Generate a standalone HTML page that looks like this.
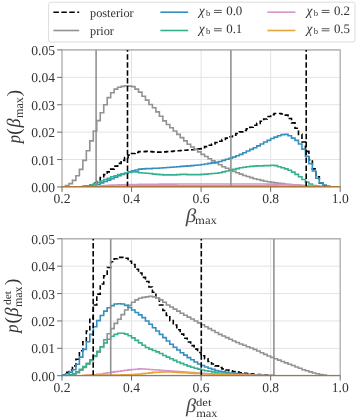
<!DOCTYPE html>
<html><head><meta charset="utf-8"><style>
html,body{margin:0;padding:0;background:#fff;}
body{width:357px;height:420px;overflow:hidden;}
svg{display:block;}
text{font-family:"Liberation Serif",serif;fill:#333;}
svg{-webkit-font-smoothing:antialiased;text-rendering:geometricPrecision;}
.tl{font-size:13.6px;}
.grid{stroke:#e3e3e3;stroke-width:1;}
.spine{fill:none;stroke:#a8a8a8;stroke-width:1.25;}
.tick{stroke:#6a6a6a;stroke-width:1.0;}
.h{fill:none;stroke-width:1.6;stroke-linejoin:miter;}
.leg{font-size:13px;}
</style></head><body>
<svg style="will-change:transform" width="357" height="420" viewBox="0 0 357 420">
<defs>
<clipPath id="c0"><rect x="62.00" y="49.92" width="278.20" height="137.04"/></clipPath>
<clipPath id="c1"><rect x="62.00" y="238.8" width="278.20" height="136.9"/></clipPath>
</defs>
<line x1="62.00" y1="186.96" x2="340.20" y2="186.96" class="grid"/>
<line x1="62.00" y1="159.55" x2="340.20" y2="159.55" class="grid"/>
<line x1="62.00" y1="132.14" x2="340.20" y2="132.14" class="grid"/>
<line x1="62.00" y1="104.74" x2="340.20" y2="104.74" class="grid"/>
<line x1="62.00" y1="77.33" x2="340.20" y2="77.33" class="grid"/>
<line x1="62.00" y1="49.92" x2="340.20" y2="49.92" class="grid"/>
<line x1="131.55" y1="49.92" x2="131.55" y2="186.96" class="grid"/>
<line x1="201.10" y1="49.92" x2="201.10" y2="186.96" class="grid"/>
<line x1="270.65" y1="49.92" x2="270.65" y2="186.96" class="grid"/>
<rect x="62.00" y="49.92" width="278.20" height="137.04" class="spine"/>
<g clip-path="url(#c0)">
<path d="M62.00 186.96L62.00 186.96L65.48 186.96L65.48 186.96L68.95 186.96L68.95 186.96L72.43 186.96L72.43 186.96L75.91 186.96L75.91 186.96L79.39 186.96L79.39 186.96L82.86 186.96L82.86 186.96L86.34 186.96L86.34 186.14L89.82 186.14L89.82 184.77L93.30 184.77L93.30 182.85L96.78 182.85L96.78 180.66L100.25 180.66L100.25 177.64L103.73 177.64L103.73 174.63L107.21 174.63L107.21 171.89L110.69 171.89L110.69 169.14L114.16 169.14L114.16 166.13L117.64 166.13L117.64 163.39L121.12 163.39L121.12 160.37L124.59 160.37L124.59 157.63L128.07 157.63L128.07 155.17L131.55 155.17L131.55 153.52L135.03 153.52L135.03 152.43L138.50 152.43L138.50 151.60L141.98 151.60L141.98 151.60L145.46 151.60L145.46 151.33L148.94 151.33L148.94 151.60L152.42 151.60L152.42 151.88L155.89 151.88L155.89 152.15L159.37 152.15L159.37 152.15L162.85 152.15L162.85 151.88L166.32 151.88L166.32 151.60L169.80 151.60L169.80 151.33L173.28 151.33L173.28 151.06L176.76 151.06L176.76 150.78L180.23 150.78L180.23 150.51L183.71 150.51L183.71 150.23L187.19 150.23L187.19 149.96L190.67 149.96L190.67 149.69L194.15 149.69L194.15 149.41L197.62 149.41L197.62 148.86L201.10 148.86L201.10 147.77L204.58 147.77L204.58 146.67L208.05 146.67L208.05 145.30L211.53 145.30L211.53 143.93L215.01 143.93L215.01 142.56L218.49 142.56L218.49 141.19L221.96 141.19L221.96 139.54L225.44 139.54L225.44 138.17L228.92 138.17L228.92 136.80L232.40 136.80L232.40 135.16L235.87 135.16L235.87 133.51L239.35 133.51L239.35 131.87L242.83 131.87L242.83 130.50L246.31 130.50L246.31 128.86L249.78 128.86L249.78 127.21L253.26 127.21L253.26 125.29L256.74 125.29L256.74 123.37L260.22 123.37L260.22 121.18L263.70 121.18L263.70 118.99L267.17 118.99L267.17 116.52L270.65 116.52L270.65 114.60L274.13 114.60L274.13 113.51L277.61 113.51L277.61 113.51L281.08 113.51L281.08 114.05L284.56 114.05L284.56 115.15L288.04 115.15L288.04 118.44L291.52 118.44L291.52 122.83L294.99 122.83L294.99 128.31L298.47 128.31L298.47 134.34L301.95 134.34L301.95 142.01L305.43 142.01L305.43 151.33L308.90 151.33L308.90 159.83L312.38 159.83L312.38 168.87L315.86 168.87L315.86 176.82L319.33 176.82L319.33 182.85L322.81 182.85L322.81 185.86L326.29 185.86L326.29 186.96L329.77 186.96L329.77 186.96L333.25 186.96L333.25 186.96L336.72 186.96L336.72 186.96L340.20 186.96L340.20 186.96" class="h" stroke="#000" stroke-dasharray="4.7 2.6"/>
<path d="M62.00 186.96L62.00 186.69L65.48 186.69L65.48 185.59L68.95 185.59L68.95 183.67L72.43 183.67L72.43 180.38L75.91 180.38L75.91 175.72L79.39 175.72L79.39 169.42L82.86 169.42L82.86 160.37L86.34 160.37L86.34 150.78L89.82 150.78L89.82 140.91L93.30 140.91L93.30 131.05L96.78 131.05L96.78 120.63L100.25 120.63L100.25 112.68L103.73 112.68L103.73 104.74L107.21 104.74L107.21 97.61L110.69 97.61L110.69 92.68L114.16 92.68L114.16 89.11L117.64 89.11L117.64 87.19L121.12 87.19L121.12 86.37L124.59 86.37L124.59 85.82L128.07 85.82L128.07 86.10L131.55 86.10L131.55 86.65L135.03 86.65L135.03 89.11L138.50 89.11L138.50 92.13L141.98 92.13L141.98 96.24L145.46 96.24L145.46 100.08L148.94 100.08L148.94 104.46L152.42 104.46L152.42 107.75L155.89 107.75L155.89 111.86L159.37 111.86L159.37 116.25L162.85 116.25L162.85 120.91L166.32 120.91L166.32 124.47L169.80 124.47L169.80 127.76L173.28 127.76L173.28 131.05L176.76 131.05L176.76 134.34L180.23 134.34L180.23 137.63L183.71 137.63L183.71 140.91L187.19 140.91L187.19 144.20L190.67 144.20L190.67 146.94L194.15 146.94L194.15 149.41L197.62 149.41L197.62 151.88L201.10 151.88L201.10 154.34L204.58 154.34L204.58 156.54L208.05 156.54L208.05 158.73L211.53 158.73L211.53 160.92L215.01 160.92L215.01 162.84L218.49 162.84L218.49 164.76L221.96 164.76L221.96 166.68L225.44 166.68L225.44 168.32L228.92 168.32L228.92 169.97L232.40 169.97L232.40 171.34L235.87 171.34L235.87 172.71L239.35 172.71L239.35 174.08L242.83 174.08L242.83 175.45L246.31 175.45L246.31 176.54L249.78 176.54L249.78 177.64L253.26 177.64L253.26 178.74L256.74 178.74L256.74 179.56L260.22 179.56L260.22 180.38L263.70 180.38L263.70 181.20L267.17 181.20L267.17 181.75L270.65 181.75L270.65 182.30L274.13 182.30L274.13 182.85L277.61 182.85L277.61 183.40L281.08 183.40L281.08 183.67L284.56 183.67L284.56 184.22L288.04 184.22L288.04 184.49L291.52 184.49L291.52 184.77L294.99 184.77L294.99 185.04L298.47 185.04L298.47 185.32L301.95 185.32L301.95 185.59L305.43 185.59L305.43 185.86L308.90 185.86L308.90 186.14L312.38 186.14L312.38 186.14L315.86 186.14L315.86 186.41L319.33 186.41L319.33 186.41L322.81 186.41L322.81 186.69L326.29 186.69L326.29 186.69L329.77 186.69L329.77 186.69L333.25 186.69L333.25 186.69L336.72 186.69L336.72 186.69L340.20 186.69L340.20 186.96" class="h" stroke="#929292"/>
<path d="M62.00 186.96L62.00 186.96L65.48 186.96L65.48 186.96L68.95 186.96L68.95 186.96L72.43 186.96L72.43 186.96L75.91 186.96L75.91 186.96L79.39 186.96L79.39 186.69L82.86 186.69L82.86 186.41L86.34 186.41L86.34 186.14L89.82 186.14L89.82 185.59L93.30 185.59L93.30 185.04L96.78 185.04L96.78 184.22L100.25 184.22L100.25 182.85L103.73 182.85L103.73 181.48L107.21 181.48L107.21 180.11L110.69 180.11L110.69 178.74L114.16 178.74L114.16 177.09L117.64 177.09L117.64 175.72L121.12 175.72L121.12 174.35L124.59 174.35L124.59 173.26L128.07 173.26L128.07 171.89L131.55 171.89L131.55 170.79L135.03 170.79L135.03 169.97L138.50 169.97L138.50 169.14L141.98 169.14L141.98 168.87L145.46 168.87L145.46 168.60L148.94 168.60L148.94 168.60L152.42 168.60L152.42 168.32L155.89 168.32L155.89 168.32L159.37 168.32L159.37 168.05L162.85 168.05L162.85 167.77L166.32 167.77L166.32 167.50L169.80 167.50L169.80 167.23L173.28 167.23L173.28 166.95L176.76 166.95L176.76 166.68L180.23 166.68L180.23 166.40L183.71 166.40L183.71 166.13L187.19 166.13L187.19 165.86L190.67 165.86L190.67 165.58L194.15 165.58L194.15 165.31L197.62 165.31L197.62 165.03L201.10 165.03L201.10 164.49L204.58 164.49L204.58 163.94L208.05 163.94L208.05 163.39L211.53 163.39L211.53 162.84L215.01 162.84L215.01 162.29L218.49 162.29L218.49 161.47L221.96 161.47L221.96 160.37L225.44 160.37L225.44 159.28L228.92 159.28L228.92 158.18L232.40 158.18L232.40 157.09L235.87 157.09L235.87 155.71L239.35 155.71L239.35 154.34L242.83 154.34L242.83 152.70L246.31 152.70L246.31 151.06L249.78 151.06L249.78 149.41L253.26 149.41L253.26 147.77L256.74 147.77L256.74 145.85L260.22 145.85L260.22 143.93L263.70 143.93L263.70 142.01L267.17 142.01L267.17 140.37L270.65 140.37L270.65 138.45L274.13 138.45L274.13 137.08L277.61 137.08L277.61 135.71L281.08 135.71L281.08 134.61L284.56 134.61L284.56 134.34L288.04 134.34L288.04 135.71L291.52 135.71L291.52 138.17L294.99 138.17L294.99 140.37L298.47 140.37L298.47 143.93L301.95 143.93L301.95 149.14L305.43 149.14L305.43 156.26L308.90 156.26L308.90 163.66L312.38 163.66L312.38 171.06L315.86 171.06L315.86 178.19L319.33 178.19L319.33 182.85L322.81 182.85L322.81 185.04L326.29 185.04L326.29 186.14L329.77 186.14L329.77 186.69L333.25 186.69L333.25 186.96L336.72 186.96L336.72 186.96L340.20 186.96L340.20 186.96" class="h" stroke="#348fc1"/>
<path d="M62.00 186.96L62.00 186.96L65.48 186.96L65.48 186.96L68.95 186.96L68.95 186.96L72.43 186.96L72.43 186.96L75.91 186.96L75.91 186.96L79.39 186.96L79.39 186.69L82.86 186.69L82.86 186.41L86.34 186.41L86.34 185.86L89.82 185.86L89.82 184.77L93.30 184.77L93.30 183.67L96.78 183.67L96.78 182.30L100.25 182.30L100.25 180.93L103.73 180.93L103.73 179.56L107.21 179.56L107.21 178.19L110.69 178.19L110.69 176.82L114.16 176.82L114.16 175.72L117.64 175.72L117.64 174.63L121.12 174.63L121.12 173.80L124.59 173.80L124.59 172.98L128.07 172.98L128.07 172.43L131.55 172.43L131.55 171.89L135.03 171.89L135.03 171.89L138.50 171.89L138.50 172.71L141.98 172.71L141.98 172.98L145.46 172.98L145.46 173.26L148.94 173.26L148.94 173.53L152.42 173.53L152.42 174.08L155.89 174.08L155.89 174.35L159.37 174.35L159.37 174.63L162.85 174.63L162.85 174.90L166.32 174.90L166.32 174.90L169.80 174.90L169.80 174.90L173.28 174.90L173.28 174.90L176.76 174.90L176.76 174.63L180.23 174.63L180.23 174.35L183.71 174.35L183.71 174.35L187.19 174.35L187.19 174.63L190.67 174.63L190.67 174.63L194.15 174.63L194.15 174.63L197.62 174.63L197.62 174.63L201.10 174.63L201.10 174.35L204.58 174.35L204.58 174.08L208.05 174.08L208.05 173.80L211.53 173.80L211.53 173.53L215.01 173.53L215.01 173.26L218.49 173.26L218.49 172.71L221.96 172.71L221.96 171.89L225.44 171.89L225.44 171.06L228.92 171.06L228.92 170.24L232.40 170.24L232.40 169.42L235.87 169.42L235.87 168.60L239.35 168.60L239.35 167.77L242.83 167.77L242.83 167.23L246.31 167.23L246.31 166.68L249.78 166.68L249.78 166.40L253.26 166.40L253.26 166.13L256.74 166.13L256.74 165.86L260.22 165.86L260.22 165.86L263.70 165.86L263.70 165.58L267.17 165.58L267.17 165.58L270.65 165.58L270.65 165.31L274.13 165.31L274.13 165.58L277.61 165.58L277.61 166.68L281.08 166.68L281.08 167.77L284.56 167.77L284.56 168.87L288.04 168.87L288.04 170.24L291.52 170.24L291.52 172.16L294.99 172.16L294.99 174.35L298.47 174.35L298.47 176.82L301.95 176.82L301.95 179.56L305.43 179.56L305.43 182.03L308.90 182.03L308.90 183.95L312.38 183.95L312.38 185.59L315.86 185.59L315.86 186.41L319.33 186.41L319.33 186.96L322.81 186.96L322.81 186.96L326.29 186.96L326.29 186.96L329.77 186.96L329.77 186.96L333.25 186.96L333.25 186.96L336.72 186.96L336.72 186.96L340.20 186.96L340.20 186.96" class="h" stroke="#35b18f"/>
<path d="M62.00 186.96L62.00 186.96L65.48 186.96L65.48 186.96L68.95 186.96L68.95 186.96L72.43 186.96L72.43 186.96L75.91 186.96L75.91 186.96L79.39 186.96L79.39 186.96L82.86 186.96L82.86 186.96L86.34 186.96L86.34 186.96L89.82 186.96L89.82 186.96L93.30 186.96L93.30 186.55L96.78 186.55L96.78 186.14L100.25 186.14L100.25 185.86L103.73 185.86L103.73 185.59L107.21 185.59L107.21 185.32L110.69 185.32L110.69 185.13L114.16 185.13L114.16 184.95L117.64 184.95L117.64 184.77L121.12 184.77L121.12 184.71L124.59 184.71L124.59 184.65L128.07 184.65L128.07 184.58L131.55 184.58L131.55 184.52L135.03 184.52L135.03 184.46L138.50 184.46L138.50 184.40L141.98 184.40L141.98 184.34L145.46 184.34L145.46 184.28L148.94 184.28L148.94 184.22L152.42 184.22L152.42 184.20L155.89 184.20L155.89 184.18L159.37 184.18L159.37 184.16L162.85 184.16L162.85 184.15L166.32 184.15L166.32 184.13L169.80 184.13L169.80 184.11L173.28 184.11L173.28 184.09L176.76 184.09L176.76 184.07L180.23 184.07L180.23 184.05L183.71 184.05L183.71 184.04L187.19 184.04L187.19 184.02L190.67 184.02L190.67 184.00L194.15 184.00L194.15 183.98L197.62 183.98L197.62 183.96L201.10 183.96L201.10 183.95L204.58 183.95L204.58 183.95L208.05 183.95L208.05 183.95L211.53 183.95L211.53 183.95L215.01 183.95L215.01 183.95L218.49 183.95L218.49 183.95L221.96 183.95L221.96 183.95L225.44 183.95L225.44 183.95L228.92 183.95L228.92 183.95L232.40 183.95L232.40 183.95L235.87 183.95L235.87 183.95L239.35 183.95L239.35 183.95L242.83 183.95L242.83 183.95L246.31 183.95L246.31 183.95L249.78 183.95L249.78 183.95L253.26 183.95L253.26 183.95L256.74 183.95L256.74 183.98L260.22 183.98L260.22 184.02L263.70 184.02L263.70 184.06L267.17 184.06L267.17 184.10L270.65 184.10L270.65 184.14L274.13 184.14L274.13 184.18L277.61 184.18L277.61 184.22L281.08 184.22L281.08 184.36L284.56 184.36L284.56 184.49L288.04 184.49L288.04 184.63L291.52 184.63L291.52 184.77L294.99 184.77L294.99 185.04L298.47 185.04L298.47 185.32L301.95 185.32L301.95 185.59L305.43 185.59L305.43 185.86L308.90 185.86L308.90 186.14L312.38 186.14L312.38 186.41L315.86 186.41L315.86 186.69L319.33 186.69L319.33 186.82L322.81 186.82L322.81 186.96L326.29 186.96L326.29 186.96L329.77 186.96L329.77 186.96L333.25 186.96L333.25 186.96L336.72 186.96L336.72 186.96L340.20 186.96L340.20 186.96" class="h" stroke="#d693c9"/>
<path d="M62.00 186.96L62.00 186.96L65.48 186.96L65.48 186.96L68.95 186.96L68.95 186.96L72.43 186.96L72.43 186.96L75.91 186.96L75.91 186.96L79.39 186.96L79.39 186.96L82.86 186.96L82.86 186.96L86.34 186.96L86.34 186.96L89.82 186.96L89.82 186.96L93.30 186.96L93.30 186.82L96.78 186.82L96.78 186.69L100.25 186.69L100.25 186.55L103.73 186.55L103.73 186.41L107.21 186.41L107.21 186.34L110.69 186.34L110.69 186.27L114.16 186.27L114.16 186.21L117.64 186.21L117.64 186.14L121.12 186.14L121.12 186.07L124.59 186.07L124.59 186.00L128.07 186.00L128.07 185.93L131.55 185.93L131.55 185.86L135.03 185.86L135.03 185.86L138.50 185.86L138.50 185.86L141.98 185.86L141.98 185.86L145.46 185.86L145.46 185.86L148.94 185.86L148.94 185.86L152.42 185.86L152.42 185.86L155.89 185.86L155.89 185.86L159.37 185.86L159.37 185.86L162.85 185.86L162.85 185.86L166.32 185.86L166.32 185.86L169.80 185.86L169.80 185.86L173.28 185.86L173.28 185.86L176.76 185.86L176.76 185.86L180.23 185.86L180.23 185.86L183.71 185.86L183.71 185.86L187.19 185.86L187.19 185.86L190.67 185.86L190.67 185.86L194.15 185.86L194.15 185.86L197.62 185.86L197.62 185.86L201.10 185.86L201.10 185.86L204.58 185.86L204.58 185.86L208.05 185.86L208.05 185.86L211.53 185.86L211.53 185.86L215.01 185.86L215.01 185.86L218.49 185.86L218.49 185.86L221.96 185.86L221.96 185.86L225.44 185.86L225.44 185.86L228.92 185.86L228.92 185.86L232.40 185.86L232.40 185.86L235.87 185.86L235.87 185.86L239.35 185.86L239.35 185.86L242.83 185.86L242.83 185.86L246.31 185.86L246.31 185.86L249.78 185.86L249.78 185.86L253.26 185.86L253.26 185.86L256.74 185.86L256.74 185.86L260.22 185.86L260.22 185.86L263.70 185.86L263.70 185.86L267.17 185.86L267.17 185.86L270.65 185.86L270.65 185.86L274.13 185.86L274.13 185.90L277.61 185.90L277.61 185.93L281.08 185.93L281.08 185.97L284.56 185.97L284.56 186.00L288.04 186.00L288.04 186.03L291.52 186.03L291.52 186.07L294.99 186.07L294.99 186.10L298.47 186.10L298.47 186.14L301.95 186.14L301.95 186.27L305.43 186.27L305.43 186.41L308.90 186.41L308.90 186.55L312.38 186.55L312.38 186.69L315.86 186.69L315.86 186.82L319.33 186.82L319.33 186.96L322.81 186.96L322.81 186.96L326.29 186.96L326.29 186.96L329.77 186.96L329.77 186.96L333.25 186.96L333.25 186.96L336.72 186.96L336.72 186.96L340.20 186.96L340.20 186.96" class="h" stroke="#e5a537"/>
<line x1="96.10" y1="186.96" x2="96.10" y2="49.92" stroke="#929292" stroke-width="1.6"/>
<line x1="230.90" y1="186.96" x2="230.90" y2="49.92" stroke="#929292" stroke-width="1.6"/>
<line x1="127.50" y1="186.96" x2="127.50" y2="49.92" stroke="#000" stroke-width="1.6" stroke-dasharray="5.5 2.45"/>
<line x1="306.20" y1="186.96" x2="306.20" y2="49.92" stroke="#000" stroke-width="1.6" stroke-dasharray="5.5 2.45"/>
</g>
<line x1="62.00" y1="186.66" x2="340.20" y2="186.66" stroke="#a87234" stroke-width="1.0"/>
<line x1="57.10" y1="186.96" x2="62.00" y2="186.96" class="tick"/>
<text x="55" y="191.96" class="tl" text-anchor="end">0.00</text>
<line x1="57.10" y1="159.55" x2="62.00" y2="159.55" class="tick"/>
<text x="55" y="164.55" class="tl" text-anchor="end">0.01</text>
<line x1="57.10" y1="132.14" x2="62.00" y2="132.14" class="tick"/>
<text x="55" y="137.14" class="tl" text-anchor="end">0.02</text>
<line x1="57.10" y1="104.74" x2="62.00" y2="104.74" class="tick"/>
<text x="55" y="109.74" class="tl" text-anchor="end">0.03</text>
<line x1="57.10" y1="77.33" x2="62.00" y2="77.33" class="tick"/>
<text x="55" y="82.33" class="tl" text-anchor="end">0.04</text>
<line x1="57.10" y1="49.92" x2="62.00" y2="49.92" class="tick"/>
<text x="55" y="54.92" class="tl" text-anchor="end">0.05</text>
<line x1="62.00" y1="186.96" x2="62.00" y2="191.86" class="tick"/>
<text x="62.00" y="203.16" class="tl" text-anchor="middle">0.2</text>
<line x1="131.55" y1="186.96" x2="131.55" y2="191.86" class="tick"/>
<text x="131.55" y="203.16" class="tl" text-anchor="middle">0.4</text>
<line x1="201.10" y1="186.96" x2="201.10" y2="191.86" class="tick"/>
<text x="201.10" y="203.16" class="tl" text-anchor="middle">0.6</text>
<line x1="270.65" y1="186.96" x2="270.65" y2="191.86" class="tick"/>
<text x="270.65" y="203.16" class="tl" text-anchor="middle">0.8</text>
<line x1="340.20" y1="186.96" x2="340.20" y2="191.86" class="tick"/>
<text x="340.20" y="203.16" class="tl" text-anchor="middle">1.0</text>
<line x1="62.00" y1="375.70" x2="340.20" y2="375.70" class="grid"/>
<line x1="62.00" y1="348.32" x2="340.20" y2="348.32" class="grid"/>
<line x1="62.00" y1="320.94" x2="340.20" y2="320.94" class="grid"/>
<line x1="62.00" y1="293.56" x2="340.20" y2="293.56" class="grid"/>
<line x1="62.00" y1="266.18" x2="340.20" y2="266.18" class="grid"/>
<line x1="62.00" y1="238.80" x2="340.20" y2="238.80" class="grid"/>
<line x1="131.55" y1="238.80" x2="131.55" y2="375.70" class="grid"/>
<line x1="201.10" y1="238.80" x2="201.10" y2="375.70" class="grid"/>
<line x1="270.65" y1="238.80" x2="270.65" y2="375.70" class="grid"/>
<rect x="62.00" y="238.80" width="278.20" height="136.90" class="spine"/>
<g clip-path="url(#c1)">
<path d="M62.00 375.70L62.00 374.88L65.48 374.88L65.48 372.41L68.95 372.41L68.95 369.95L72.43 369.95L72.43 365.84L75.91 365.84L75.91 359.27L79.39 359.27L79.39 350.78L82.86 350.78L82.86 341.75L86.34 341.75L86.34 331.07L89.82 331.07L89.82 318.20L93.30 318.20L93.30 305.06L96.78 305.06L96.78 294.11L100.25 294.11L100.25 283.98L103.73 283.98L103.73 275.76L107.21 275.76L107.21 267.55L110.69 267.55L110.69 261.80L114.16 261.80L114.16 258.79L117.64 258.79L117.64 257.42L121.12 257.42L121.12 257.42L124.59 257.42L124.59 258.24L128.07 258.24L128.07 261.25L131.55 261.25L131.55 264.54L135.03 264.54L135.03 269.19L138.50 269.19L138.50 273.02L141.98 273.02L141.98 277.41L145.46 277.41L145.46 281.51L148.94 281.51L148.94 286.99L152.42 286.99L152.42 292.19L155.89 292.19L155.89 298.49L159.37 298.49L159.37 305.06L162.85 305.06L162.85 310.54L166.32 310.54L166.32 315.46L169.80 315.46L169.80 320.67L173.28 320.67L173.28 325.05L176.76 325.05L176.76 329.70L180.23 329.70L180.23 334.08L183.71 334.08L183.71 338.19L187.19 338.19L187.19 342.02L190.67 342.02L190.67 345.58L194.15 345.58L194.15 349.14L197.62 349.14L197.62 352.43L201.10 352.43L201.10 355.71L204.58 355.71L204.58 358.72L208.05 358.72L208.05 361.46L211.53 361.46L211.53 363.93L215.01 363.93L215.01 365.84L218.49 365.84L218.49 367.49L221.96 367.49L221.96 368.86L225.44 368.86L225.44 369.95L228.92 369.95L228.92 370.77L232.40 370.77L232.40 371.59L235.87 371.59L235.87 372.14L239.35 372.14L239.35 372.69L242.83 372.69L242.83 373.24L246.31 373.24L246.31 373.51L249.78 373.51L249.78 373.92L253.26 373.92L253.26 374.33L256.74 374.33L256.74 374.60L260.22 374.60L260.22 374.88L263.70 374.88L263.70 375.15L267.17 375.15L267.17 375.33L270.65 375.33L270.65 375.52L274.13 375.52L274.13 375.70L277.61 375.70L277.61 375.70L281.08 375.70L281.08 375.70L284.56 375.70L284.56 375.70L288.04 375.70L288.04 375.70L291.52 375.70L291.52 375.70L294.99 375.70L294.99 375.70L298.47 375.70L298.47 375.70L301.95 375.70L301.95 375.70L305.43 375.70L305.43 375.70L308.90 375.70L308.90 375.70L312.38 375.70L312.38 375.70L315.86 375.70L315.86 375.70L319.33 375.70L319.33 375.70L322.81 375.70L322.81 375.70L326.29 375.70L326.29 375.70L329.77 375.70L329.77 375.70L333.25 375.70L333.25 375.70L336.72 375.70L336.72 375.70L340.20 375.70L340.20 375.70" class="h" stroke="#000" stroke-dasharray="4.7 2.6"/>
<path d="M62.00 375.70L62.00 375.70L65.48 375.70L65.48 375.70L68.95 375.70L68.95 375.43L72.43 375.43L72.43 374.60L75.91 374.60L75.91 372.69L79.39 372.69L79.39 370.22L82.86 370.22L82.86 367.49L86.34 367.49L86.34 364.20L89.82 364.20L89.82 360.64L93.30 360.64L93.30 356.53L96.78 356.53L96.78 352.15L100.25 352.15L100.25 346.68L103.73 346.68L103.73 339.83L107.21 339.83L107.21 333.81L110.69 333.81L110.69 328.61L114.16 328.61L114.16 323.40L117.64 323.40L117.64 319.30L121.12 319.30L121.12 314.64L124.59 314.64L124.59 309.99L128.07 309.99L128.07 305.33L131.55 305.33L131.55 302.32L135.03 302.32L135.03 299.86L138.50 299.86L138.50 298.21L141.98 298.21L141.98 297.39L145.46 297.39L145.46 296.85L148.94 296.85L148.94 296.30L152.42 296.30L152.42 296.85L155.89 296.85L155.89 297.94L159.37 297.94L159.37 299.86L162.85 299.86L162.85 302.32L166.32 302.32L166.32 305.06L169.80 305.06L169.80 306.98L173.28 306.98L173.28 309.17L176.76 309.17L176.76 311.08L180.23 311.08L180.23 313.27L183.71 313.27L183.71 315.19L187.19 315.19L187.19 317.11L190.67 317.11L190.67 319.02L194.15 319.02L194.15 320.94L197.62 320.94L197.62 322.86L201.10 322.86L201.10 324.77L204.58 324.77L204.58 326.69L208.05 326.69L208.05 328.61L211.53 328.61L211.53 330.52L215.01 330.52L215.01 332.44L218.49 332.44L218.49 334.36L221.96 334.36L221.96 336.00L225.44 336.00L225.44 337.64L228.92 337.64L228.92 339.28L232.40 339.28L232.40 340.93L235.87 340.93L235.87 342.57L239.35 342.57L239.35 343.94L242.83 343.94L242.83 345.31L246.31 345.31L246.31 346.68L249.78 346.68L249.78 348.05L253.26 348.05L253.26 349.42L256.74 349.42L256.74 351.06L260.22 351.06L260.22 352.70L263.70 352.70L263.70 354.34L267.17 354.34L267.17 355.99L270.65 355.99L270.65 357.36L274.13 357.36L274.13 358.72L277.61 358.72L277.61 360.09L281.08 360.09L281.08 361.46L284.56 361.46L284.56 362.83L288.04 362.83L288.04 364.20L291.52 364.20L291.52 365.57L294.99 365.57L294.99 366.94L298.47 366.94L298.47 368.31L301.95 368.31L301.95 369.68L305.43 369.68L305.43 370.77L308.90 370.77L308.90 371.87L312.38 371.87L312.38 372.96L315.86 372.96L315.86 373.78L319.33 373.78L319.33 374.60L322.81 374.60L322.81 375.15L326.29 375.15L326.29 375.70L329.77 375.70L329.77 375.70L333.25 375.70L333.25 375.70L336.72 375.70L336.72 375.70L340.20 375.70L340.20 375.70" class="h" stroke="#929292"/>
<path d="M62.00 375.70L62.00 374.88L65.48 374.88L65.48 373.78L68.95 373.78L68.95 372.14L72.43 372.14L72.43 369.68L75.91 369.68L75.91 364.20L79.39 364.20L79.39 357.08L82.86 357.08L82.86 349.42L86.34 349.42L86.34 341.75L89.82 341.75L89.82 334.36L93.30 334.36L93.30 326.69L96.78 326.69L96.78 320.67L100.25 320.67L100.25 315.46L103.73 315.46L103.73 311.08L107.21 311.08L107.21 307.80L110.69 307.80L110.69 305.61L114.16 305.61L114.16 303.96L117.64 303.96L117.64 303.69L121.12 303.69L121.12 303.96L124.59 303.96L124.59 305.33L128.07 305.33L128.07 307.52L131.55 307.52L131.55 309.99L135.03 309.99L135.03 312.45L138.50 312.45L138.50 314.92L141.98 314.92L141.98 317.65L145.46 317.65L145.46 320.94L148.94 320.94L148.94 324.23L152.42 324.23L152.42 327.78L155.89 327.78L155.89 331.07L159.37 331.07L159.37 334.36L162.85 334.36L162.85 337.64L166.32 337.64L166.32 340.93L169.80 340.93L169.80 344.21L173.28 344.21L173.28 347.22L176.76 347.22L176.76 349.96L180.23 349.96L180.23 352.70L183.71 352.70L183.71 355.16L187.19 355.16L187.19 357.63L190.67 357.63L190.67 359.82L194.15 359.82L194.15 362.01L197.62 362.01L197.62 363.93L201.10 363.93L201.10 365.57L204.58 365.57L204.58 366.94L208.05 366.94L208.05 368.31L211.53 368.31L211.53 369.40L215.01 369.40L215.01 370.50L218.49 370.50L218.49 371.32L221.96 371.32L221.96 371.87L225.44 371.87L225.44 372.41L228.92 372.41L228.92 372.96L232.40 372.96L232.40 373.24L235.87 373.24L235.87 373.51L239.35 373.51L239.35 373.78L242.83 373.78L242.83 374.06L246.31 374.06L246.31 374.33L249.78 374.33L249.78 374.60L253.26 374.60L253.26 374.88L256.74 374.88L256.74 375.06L260.22 375.06L260.22 375.24L263.70 375.24L263.70 375.43L267.17 375.43L267.17 375.56L270.65 375.56L270.65 375.70L274.13 375.70L274.13 375.70L277.61 375.70L277.61 375.70L281.08 375.70L281.08 375.70L284.56 375.70L284.56 375.70L288.04 375.70L288.04 375.70L291.52 375.70L291.52 375.70L294.99 375.70L294.99 375.70L298.47 375.70L298.47 375.70L301.95 375.70L301.95 375.70L305.43 375.70L305.43 375.70L308.90 375.70L308.90 375.70L312.38 375.70L312.38 375.70L315.86 375.70L315.86 375.70L319.33 375.70L319.33 375.70L322.81 375.70L322.81 375.70L326.29 375.70L326.29 375.70L329.77 375.70L329.77 375.70L333.25 375.70L333.25 375.70L336.72 375.70L336.72 375.70L340.20 375.70L340.20 375.70" class="h" stroke="#348fc1"/>
<path d="M62.00 375.70L62.00 375.70L65.48 375.70L65.48 375.70L68.95 375.70L68.95 374.88L72.43 374.88L72.43 373.78L75.91 373.78L75.91 371.87L79.39 371.87L79.39 369.40L82.86 369.40L82.86 366.66L86.34 366.66L86.34 363.38L89.82 363.38L89.82 359.82L93.30 359.82L93.30 355.71L96.78 355.71L96.78 351.33L100.25 351.33L100.25 346.95L103.73 346.95L103.73 342.84L107.21 342.84L107.21 339.28L110.69 339.28L110.69 336.27L114.16 336.27L114.16 334.36L117.64 334.36L117.64 333.26L121.12 333.26L121.12 333.26L124.59 333.26L124.59 334.08L128.07 334.08L128.07 335.73L131.55 335.73L131.55 337.92L135.03 337.92L135.03 340.38L138.50 340.38L138.50 342.84L141.98 342.84L141.98 345.31L145.46 345.31L145.46 347.50L148.94 347.50L148.94 349.14L152.42 349.14L152.42 350.51L155.89 350.51L155.89 351.88L159.37 351.88L159.37 353.52L162.85 353.52L162.85 355.44L166.32 355.44L166.32 357.08L169.80 357.08L169.80 358.72L173.28 358.72L173.28 360.37L176.76 360.37L176.76 362.01L180.23 362.01L180.23 363.38L183.71 363.38L183.71 364.75L187.19 364.75L187.19 366.12L190.67 366.12L190.67 367.21L194.15 367.21L194.15 368.31L197.62 368.31L197.62 369.13L201.10 369.13L201.10 369.95L204.58 369.95L204.58 370.77L208.05 370.77L208.05 371.32L211.53 371.32L211.53 371.87L215.01 371.87L215.01 372.41L218.49 372.41L218.49 372.96L221.96 372.96L221.96 373.24L225.44 373.24L225.44 373.51L228.92 373.51L228.92 373.78L232.40 373.78L232.40 374.06L235.87 374.06L235.87 374.33L239.35 374.33L239.35 374.50L242.83 374.50L242.83 374.66L246.31 374.66L246.31 374.82L249.78 374.82L249.78 374.99L253.26 374.99L253.26 375.15L256.74 375.15L256.74 375.33L260.22 375.33L260.22 375.52L263.70 375.52L263.70 375.70L267.17 375.70L267.17 375.70L270.65 375.70L270.65 375.70L274.13 375.70L274.13 375.70L277.61 375.70L277.61 375.70L281.08 375.70L281.08 375.70L284.56 375.70L284.56 375.70L288.04 375.70L288.04 375.70L291.52 375.70L291.52 375.70L294.99 375.70L294.99 375.70L298.47 375.70L298.47 375.70L301.95 375.70L301.95 375.70L305.43 375.70L305.43 375.70L308.90 375.70L308.90 375.70L312.38 375.70L312.38 375.70L315.86 375.70L315.86 375.70L319.33 375.70L319.33 375.70L322.81 375.70L322.81 375.70L326.29 375.70L326.29 375.70L329.77 375.70L329.77 375.70L333.25 375.70L333.25 375.70L336.72 375.70L336.72 375.70L340.20 375.70L340.20 375.70" class="h" stroke="#35b18f"/>
<path d="M62.00 375.70L62.00 375.70L65.48 375.70L65.48 375.70L68.95 375.70L68.95 375.70L72.43 375.70L72.43 375.70L75.91 375.70L75.91 375.70L79.39 375.70L79.39 375.70L82.86 375.70L82.86 375.52L86.34 375.52L86.34 375.33L89.82 375.33L89.82 375.15L93.30 375.15L93.30 374.79L96.78 374.79L96.78 374.42L100.25 374.42L100.25 374.06L103.73 374.06L103.73 373.42L107.21 373.42L107.21 372.78L110.69 372.78L110.69 372.14L114.16 372.14L114.16 371.66L117.64 371.66L117.64 371.18L121.12 371.18L121.12 370.70L124.59 370.70L124.59 370.22L128.07 370.22L128.07 369.88L131.55 369.88L131.55 369.54L135.03 369.54L135.03 369.20L138.50 369.20L138.50 368.86L141.98 368.86L141.98 369.06L145.46 369.06L145.46 369.27L148.94 369.27L148.94 369.47L152.42 369.47L152.42 369.68L155.89 369.68L155.89 369.95L159.37 369.95L159.37 370.22L162.85 370.22L162.85 370.50L166.32 370.50L166.32 370.77L169.80 370.77L169.80 371.05L173.28 371.05L173.28 371.32L176.76 371.32L176.76 371.59L180.23 371.59L180.23 371.87L183.71 371.87L183.71 372.14L187.19 372.14L187.19 372.41L190.67 372.41L190.67 372.64L194.15 372.64L194.15 372.87L197.62 372.87L197.62 373.10L201.10 373.10L201.10 373.33L204.58 373.33L204.58 373.56L208.05 373.56L208.05 373.78L211.53 373.78L211.53 373.92L215.01 373.92L215.01 374.06L218.49 374.06L218.49 374.19L221.96 374.19L221.96 374.33L225.44 374.33L225.44 374.47L228.92 374.47L228.92 374.60L232.40 374.60L232.40 374.68L235.87 374.68L235.87 374.76L239.35 374.76L239.35 374.84L242.83 374.84L242.83 374.92L246.31 374.92L246.31 375.00L249.78 375.00L249.78 375.07L253.26 375.07L253.26 375.15L256.74 375.15L256.74 375.26L260.22 375.26L260.22 375.37L263.70 375.37L263.70 375.48L267.17 375.48L267.17 375.59L270.65 375.59L270.65 375.70L274.13 375.70L274.13 375.70L277.61 375.70L277.61 375.70L281.08 375.70L281.08 375.70L284.56 375.70L284.56 375.70L288.04 375.70L288.04 375.70L291.52 375.70L291.52 375.70L294.99 375.70L294.99 375.70L298.47 375.70L298.47 375.70L301.95 375.70L301.95 375.70L305.43 375.70L305.43 375.70L308.90 375.70L308.90 375.70L312.38 375.70L312.38 375.70L315.86 375.70L315.86 375.70L319.33 375.70L319.33 375.70L322.81 375.70L322.81 375.70L326.29 375.70L326.29 375.70L329.77 375.70L329.77 375.70L333.25 375.70L333.25 375.70L336.72 375.70L336.72 375.70L340.20 375.70L340.20 375.70" class="h" stroke="#d693c9"/>
<path d="M62.00 375.70L62.00 375.70L65.48 375.70L65.48 375.70L68.95 375.70L68.95 375.70L72.43 375.70L72.43 375.70L75.91 375.70L75.91 375.70L79.39 375.70L79.39 375.70L82.86 375.70L82.86 375.52L86.34 375.52L86.34 375.33L89.82 375.33L89.82 375.15L93.30 375.15L93.30 375.13L96.78 375.13L96.78 375.10L100.25 375.10L100.25 375.07L103.73 375.07L103.73 375.04L107.21 375.04L107.21 375.02L110.69 375.02L110.69 374.99L114.16 374.99L114.16 374.96L117.64 374.96L117.64 374.93L121.12 374.93L121.12 374.91L124.59 374.91L124.59 374.88L128.07 374.88L128.07 374.74L131.55 374.74L131.55 374.60L135.03 374.60L135.03 374.33L138.50 374.33L138.50 374.06L141.98 374.06L141.98 373.65L145.46 373.65L145.46 373.24L148.94 373.24L148.94 372.83L152.42 372.83L152.42 372.41L155.89 372.41L155.89 372.28L159.37 372.28L159.37 372.14L162.85 372.14L162.85 372.00L166.32 372.00L166.32 371.87L169.80 371.87L169.80 372.05L173.28 372.05L173.28 372.23L176.76 372.23L176.76 372.41L180.23 372.41L180.23 372.60L183.71 372.60L183.71 372.78L187.19 372.78L187.19 372.96L190.67 372.96L190.67 373.14L194.15 373.14L194.15 373.33L197.62 373.33L197.62 373.51L201.10 373.51L201.10 373.69L204.58 373.69L204.58 373.87L208.05 373.87L208.05 374.06L211.53 374.06L211.53 374.19L215.01 374.19L215.01 374.33L218.49 374.33L218.49 374.47L221.96 374.47L221.96 374.60L225.44 374.60L225.44 374.74L228.92 374.74L228.92 374.88L232.40 374.88L232.40 374.96L235.87 374.96L235.87 375.04L239.35 375.04L239.35 375.11L242.83 375.11L242.83 375.19L246.31 375.19L246.31 375.27L249.78 375.27L249.78 375.35L253.26 375.35L253.26 375.43L256.74 375.43L256.74 375.48L260.22 375.48L260.22 375.54L263.70 375.54L263.70 375.59L267.17 375.59L267.17 375.65L270.65 375.65L270.65 375.70L274.13 375.70L274.13 375.70L277.61 375.70L277.61 375.70L281.08 375.70L281.08 375.70L284.56 375.70L284.56 375.70L288.04 375.70L288.04 375.70L291.52 375.70L291.52 375.70L294.99 375.70L294.99 375.70L298.47 375.70L298.47 375.70L301.95 375.70L301.95 375.70L305.43 375.70L305.43 375.70L308.90 375.70L308.90 375.70L312.38 375.70L312.38 375.70L315.86 375.70L315.86 375.70L319.33 375.70L319.33 375.70L322.81 375.70L322.81 375.70L326.29 375.70L326.29 375.70L329.77 375.70L329.77 375.70L333.25 375.70L333.25 375.70L336.72 375.70L336.72 375.70L340.20 375.70L340.20 375.70" class="h" stroke="#e5a537"/>
<line x1="110.70" y1="375.70" x2="110.70" y2="238.80" stroke="#929292" stroke-width="1.6"/>
<line x1="273.90" y1="375.70" x2="273.90" y2="238.80" stroke="#929292" stroke-width="1.6"/>
<line x1="93.20" y1="375.70" x2="93.20" y2="238.80" stroke="#000" stroke-width="1.6" stroke-dasharray="5.5 2.45"/>
<line x1="201.30" y1="375.70" x2="201.30" y2="238.80" stroke="#000" stroke-width="1.6" stroke-dasharray="5.5 2.45"/>
</g>
<line x1="62.00" y1="375.40" x2="340.20" y2="375.40" stroke="#a87234" stroke-width="1.0"/>
<line x1="57.10" y1="375.70" x2="62.00" y2="375.70" class="tick"/>
<text x="55" y="380.70" class="tl" text-anchor="end">0.00</text>
<line x1="57.10" y1="348.32" x2="62.00" y2="348.32" class="tick"/>
<text x="55" y="353.32" class="tl" text-anchor="end">0.01</text>
<line x1="57.10" y1="320.94" x2="62.00" y2="320.94" class="tick"/>
<text x="55" y="325.94" class="tl" text-anchor="end">0.02</text>
<line x1="57.10" y1="293.56" x2="62.00" y2="293.56" class="tick"/>
<text x="55" y="298.56" class="tl" text-anchor="end">0.03</text>
<line x1="57.10" y1="266.18" x2="62.00" y2="266.18" class="tick"/>
<text x="55" y="271.18" class="tl" text-anchor="end">0.04</text>
<line x1="57.10" y1="238.80" x2="62.00" y2="238.80" class="tick"/>
<text x="55" y="243.80" class="tl" text-anchor="end">0.05</text>
<line x1="62.00" y1="375.70" x2="62.00" y2="380.60" class="tick"/>
<text x="62.00" y="391.90" class="tl" text-anchor="middle">0.2</text>
<line x1="131.55" y1="375.70" x2="131.55" y2="380.60" class="tick"/>
<text x="131.55" y="391.90" class="tl" text-anchor="middle">0.4</text>
<line x1="201.10" y1="375.70" x2="201.10" y2="380.60" class="tick"/>
<text x="201.10" y="391.90" class="tl" text-anchor="middle">0.6</text>
<line x1="270.65" y1="375.70" x2="270.65" y2="380.60" class="tick"/>
<text x="270.65" y="391.90" class="tl" text-anchor="middle">0.8</text>
<line x1="340.20" y1="375.70" x2="340.20" y2="380.60" class="tick"/>
<text x="340.20" y="391.90" class="tl" text-anchor="middle">1.0</text>
<rect x="48.6" y="2.2" width="306.4" height="39.8" rx="2.2" ry="2.2" fill="#fff" fill-opacity="0.8" stroke="#dcdcdc" stroke-width="1"/>
<line x1="53.4" y1="12.2" x2="79.2" y2="12.2" stroke="#000" stroke-width="1.6" stroke-dasharray="5.5 2.45"/>
<line x1="53.4" y1="30.5" x2="79.2" y2="30.5" stroke="#929292" stroke-width="1.6"/>
<line x1="160.4" y1="12.2" x2="188.2" y2="12.2" stroke="#348fc1" stroke-width="1.6"/>
<line x1="160.4" y1="30.5" x2="188.2" y2="30.5" stroke="#35b18f" stroke-width="1.6"/>
<line x1="267.4" y1="12.2" x2="295.4" y2="12.2" stroke="#d693c9" stroke-width="1.6"/>
<line x1="267.4" y1="30.5" x2="295.4" y2="30.5" stroke="#e5a537" stroke-width="1.6"/>
<text x="90.00" y="16.60" style="font-size:12.30px">posterior</text>
<text x="90.00" y="34.90" style="font-size:12.30px">prior</text>
<text x="198.69" y="14.70" style="font-size:13.60px;font-style:italic">χ</text>
<text x="206.00" y="16.10" style="font-size:8.60px">b</text>
<line x1="214.00" y1="10.40" x2="221.80" y2="10.40" stroke="#333" stroke-width="0.8"/>
<line x1="214.00" y1="12.50" x2="221.80" y2="12.50" stroke="#333" stroke-width="0.8"/>
<text x="226.21" y="14.90" style="font-size:12.90px">0.0</text>
<text x="198.69" y="33.00" style="font-size:13.60px;font-style:italic">χ</text>
<text x="206.00" y="34.40" style="font-size:8.60px">b</text>
<line x1="214.00" y1="28.70" x2="221.80" y2="28.70" stroke="#333" stroke-width="0.8"/>
<line x1="214.00" y1="30.80" x2="221.80" y2="30.80" stroke="#333" stroke-width="0.8"/>
<text x="226.21" y="33.20" style="font-size:12.90px">0.1</text>
<text x="306.39" y="14.70" style="font-size:13.60px;font-style:italic">χ</text>
<text x="313.70" y="16.10" style="font-size:8.60px">b</text>
<line x1="321.70" y1="10.40" x2="329.50" y2="10.40" stroke="#333" stroke-width="0.8"/>
<line x1="321.70" y1="12.50" x2="329.50" y2="12.50" stroke="#333" stroke-width="0.8"/>
<text x="333.91" y="14.90" style="font-size:12.90px">0.2</text>
<text x="306.39" y="33.00" style="font-size:13.60px;font-style:italic">χ</text>
<text x="313.70" y="34.40" style="font-size:8.60px">b</text>
<line x1="321.70" y1="28.70" x2="329.50" y2="28.70" stroke="#333" stroke-width="0.8"/>
<line x1="321.70" y1="30.80" x2="329.50" y2="30.80" stroke="#333" stroke-width="0.8"/>
<text x="333.91" y="33.20" style="font-size:12.90px">0.5</text>
<text transform="translate(185.40,221.60) scale(1.080,1)" x="0.31" y="0" style="font-size:19.50px;font-style:italic;fill:#4a4a4a">β</text>
<text transform="translate(195.30,224.20) scale(1.100,1)" x="-0.24" y="0" style="font-size:11.50px">max</text>
<text transform="translate(185.80,411.60) scale(1.050,1)" x="0.31" y="0" style="font-size:19.50px;font-style:italic;fill:#4a4a4a">β</text>
<text transform="translate(196.40,405.80) scale(1.150,1)" x="-0.40" y="0" style="font-size:11.00px">det</text>
<text transform="translate(196.40,416.60) scale(1.080,1)" x="-0.24" y="0" style="font-size:11.50px">max</text>
<g transform="translate(19.90,144.30) rotate(-90)">
<text transform="translate(0.00,0.00) scale(0.900,1)" x="1.08" y="0" style="font-size:18.50px;font-style:italic">p</text>
<text x="9.67" y="0.00" style="font-size:19.00px">(</text>
<text transform="translate(16.60,0.00) scale(0.950,1)" x="0.31" y="0" style="font-size:19.00px;font-style:italic">β</text>
<text x="26.24" y="2.90" style="font-size:12.20px">max</text>
<text x="47.99" y="0.00" style="font-size:19.00px">)</text>
</g>
<g transform="translate(18.20,333.60) rotate(-90)">
<text transform="translate(0.00,0.00) scale(0.900,1)" x="1.08" y="0" style="font-size:18.50px;font-style:italic">p</text>
<text x="10.17" y="0.00" style="font-size:19.00px">(</text>
<text transform="translate(16.70,0.00) scale(0.950,1)" x="0.31" y="0" style="font-size:19.00px;font-style:italic">β</text>
<text x="26.55" y="4.10" style="font-size:12.00px">max</text>
<text transform="translate(28.90,-7.30) scale(1.100,1)" x="-0.38" y="0" style="font-size:10.50px">det</text>
<text x="48.49" y="0.00" style="font-size:19.00px">)</text>
</g>
</svg>
</body></html>
